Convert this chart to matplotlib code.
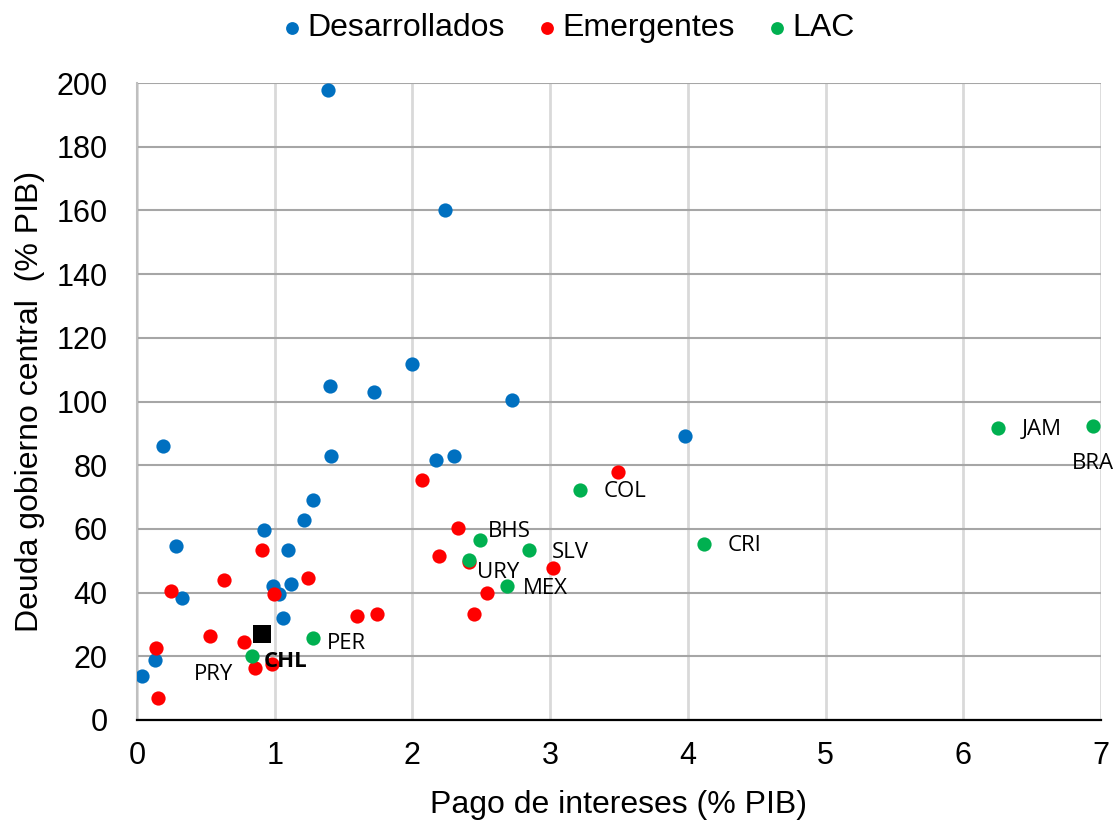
import matplotlib.pyplot as plt

plt.rcParams['font.family'] = ['Liberation Sans', 'DejaVu Sans']

# Desarrollados
dev_x = [0.04, 0.13, 0.19, 0.28, 0.33, 0.92, 0.99, 1.03, 1.12, 1.06, 1.10, 1.21,
         1.28, 1.41, 2.17, 2.30, 1.39, 2.24, 2.00, 1.40, 1.72, 2.72, 3.98]
dev_y = [13.8, 18.8, 86.0, 54.6, 38.3, 59.7, 42.0, 39.6, 42.7, 32.0, 53.4, 62.8,
         69.0, 82.9, 81.6, 82.9, 197.8, 160.0, 111.8, 104.9, 103.0, 100.5, 89.2]

# Emergentes
em_x = [0.14, 0.15, 0.25, 0.63, 0.53, 0.78, 0.86, 0.98, 0.91, 0.995, 1.24,
        1.60, 1.74, 2.07, 2.33, 2.19, 2.41, 2.54, 2.45, 3.02, 3.49]
em_y = [22.6, 7.0, 40.5, 44.0, 26.4, 24.5, 16.3, 17.6, 53.4, 39.6, 44.6,
        32.7, 33.3, 75.3, 60.3, 51.5, 49.6, 39.9, 33.3, 47.7, 77.9]

# LAC
lac_names = ['PRY', 'PER', 'BHS', 'URY', 'SLV', 'MEX', 'COL', 'CRI', 'JAM', 'BRA']
lac_x = [0.835, 1.28, 2.49, 2.41, 2.85, 2.69, 3.22, 4.12, 6.25, 6.94]
lac_y = [20.1, 25.7, 56.5, 50.2, 53.4, 42.1, 72.2, 55.3, 91.7, 92.3]

# Chile
chl_x = 0.91
chl_y = 27.0

# label offsets in points (dx, dy) from the point, text left-aligned
label_off = {
    'PRY': (-42, -13),
    'PER': (10, -4),
    'BHS': (6, 6),
    'URY': (6, -9),
    'SLV': (16, -2),
    'MEX': (11, -2),
    'COL': (17, -1),
    'CRI': (17, -1),
    'JAM': (17, -1),
    'BRA': (-15, -27),
}
lbl_font = ['Open Sans', 'DejaVu Sans']

fig = plt.figure(figsize=(11.17, 8.22), dpi=100)
ax = fig.add_axes([0.1226, 0.1241, 0.8631, 0.7749])

ax.scatter(dev_x, dev_y, s=105, color='#0070C0', label='Desarrollados', zorder=3, linewidths=0)
ax.scatter(em_x, em_y, s=105, color='#FF0000', label='Emergentes', zorder=3, linewidths=0)
ax.scatter(lac_x, lac_y, s=105, color='#00B050', label='LAC', zorder=4, linewidths=0)
ax.scatter([chl_x], [chl_y], s=165, marker='s', color='black', zorder=5, linewidths=0)

for name, x, y in zip(lac_names, lac_x, lac_y):
    dx, dy = label_off[name]
    ax.annotate(name, (x, y), xytext=(dx, dy), textcoords='offset points',
                ha='left', va='center', fontsize=16, family=lbl_font,
                annotation_clip=False, zorder=6)

ax.annotate('CHL', (chl_x, chl_y), xytext=(1, -20), textcoords='offset points',
            ha='left', va='center', fontsize=16, fontweight='bold',
            family=lbl_font, zorder=6)

ax.set_xlim(0, 7)
ax.set_ylim(0, 200)
ax.set_xticks(range(0, 8))
ax.set_yticks(range(0, 201, 20))
ax.tick_params(length=0, labelsize=22)
ax.tick_params(axis='y', pad=21)
ax.tick_params(axis='x', pad=15)

ax.yaxis.grid(True, color='#a6a6a6', linewidth=1.5, zorder=0)
ax.xaxis.grid(True, color='#d9d9d9', linewidth=2, zorder=0)
ax.set_axisbelow(True)
for side in ['top', 'right']:
    ax.spines[side].set_visible(False)
ax.spines['left'].set_color('#bfbfbf')
ax.spines['left'].set_linewidth(1.5)
ax.spines['bottom'].set_color('black')
ax.spines['bottom'].set_linewidth(1.6)

ax.set_xlabel('Pago de intereses (% PIB)', fontsize=23, labelpad=14)
ax.set_ylabel('Deuda gobierno central  (% PIB)', fontsize=23, labelpad=8)

fig.legend(loc='center', bbox_to_anchor=(567 / 1117, 0.966), ncol=3, frameon=False,
           fontsize=23, markerscale=0.9, handlelength=0.8, handletextpad=0.1,
           columnspacing=0.9)

plt.savefig('out.png', dpi=100)
